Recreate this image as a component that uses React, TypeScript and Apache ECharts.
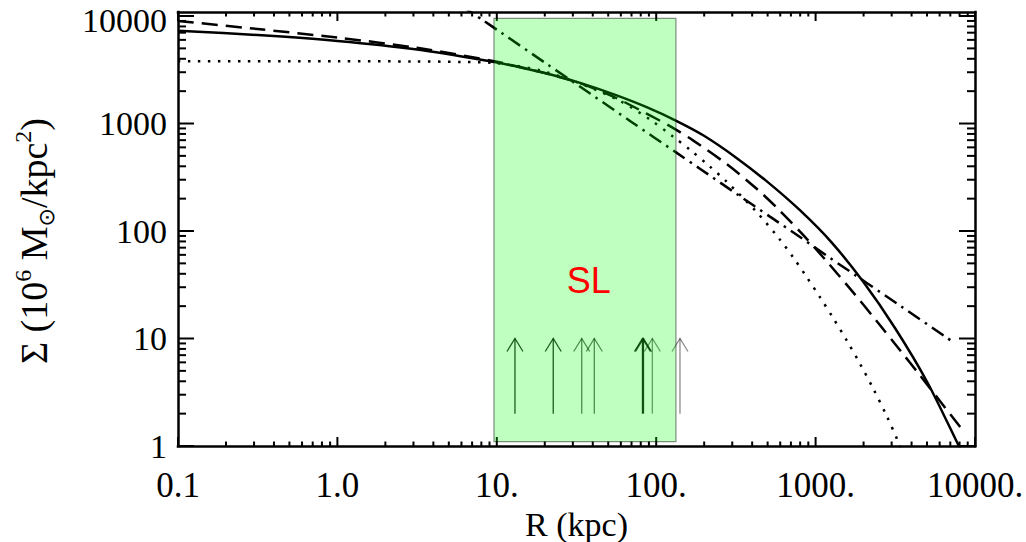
import React, { useEffect, useRef } from "react";
import * as echarts from "echarts";

// ---- axes ----
const xRange = [0.1, 10000];
const yRange = [1, 10900];
const xMajorTicks = [0.1, 1, 10, 100, 1000, 10000];
const xTickLabels = ["0.1", "1.0", "10.", "100.", "1000.", "10000."];
const yMajorTicks = [1, 10, 100, 1000, 10000];
const yTickLabels = ["1", "10", "100", "1000", "10000"];
const minorMultipliers = [2, 3, 4, 5, 6, 7, 8, 9];
const xTitle = "R (kpc)";

// ---- solid curve ----
const solidR = [0.1, 0.316, 1.0, 3.16, 10, 12.7, 20.6, 33.3, 53.8, 87.1, 134.6, 199.5, 316, 501, 794, 1259, 1995, 3162, 5012, 7943, 8300];
const solidS = [7300, 6650, 5860, 4875, 3700, 3436, 2917, 2388, 1875, 1419, 1054, 769, 484, 285, 157, 78.5, 33.5, 12.4, 3.94, 0.99, 0.86];

// ---- dashed curve ----
const dashedR = [0.1, 0.316, 1.0, 3.16, 10, 20.6, 33.3, 53.8, 87.1, 125, 171, 277, 427, 598, 838, 1175, 1726, 2415, 3388, 4519, 6026, 8280];
const dashedS = [9000, 7570, 6300, 5060, 3750, 2910, 2370, 1780, 1236, 925, 693, 419, 247, 154, 91.4, 52.2, 26.7, 14.55, 7.78, 4.53, 2.62, 1.43];

// ---- dotted curve ----
const dottedR = [0.1, 1, 3, 6, 9.5, 14, 18.7, 31.7, 59.3, 91.4, 128, 163, 217, 277, 427, 598, 725, 879, 1066, 1292, 1567, 1901, 2303, 2800, 3300, 3400];
const dottedS = [3790, 3790, 3780, 3740, 3660, 3400, 3120, 2430, 1618, 1090, 753, 570, 398, 287, 150, 83, 56.6, 37.3, 24.2, 15.4, 9.6, 5.8, 3.4, 1.89, 1.09, 0.95];

// ---- dash-dot curve ----
const dashDotR = [6.0, 8.22, 10.7, 20.6, 38.5, 68.5, 134.6, 188, 320, 517, 798, 1174, 2093, 3388, 6640, 7500];
const dashDotS = [12500, 9100, 6970, 3580, 1900, 1057, 533, 380, 221, 136, 88, 59, 32.9, 20.2, 10.2, 9.0];

// ---- SL region, arrows, label ----
const slBox = [9.6, 1.1, 133, 9500]; // R0, S0, R1, S1
const arrowR = [13.0, 22.6, 34.1, 40.9, 82.0, 83.2, 94.6, 141];
const arrowAlpha = [0.85, 0.85, 0.6, 0.6, 0.9, 0.9, 0.5, 0.45];
const arrowSigma = [2, 10];
const slText = "SL";
const slLabelPos = [37.8, 34.9];

function pairs(r: number[], s: number[]) {
  return r.map((v, i) => [v, s[i]]);
}

function minorList(majors: number[], max: number) {
  const out: number[] = [];
  majors.forEach((m) =>
    minorMultipliers.forEach((k) => {
      const v = m * k;
      if (v < max) out.push(v);
    })
  );
  return out;
}

function labelFor(values: number[], labels: string[], richTopIndex = -1) {
  return (v: number) => {
    const lv = Math.log10(v);
    for (let i = 0; i < values.length; i++) {
      if (Math.abs(Math.log10(values[i]) - lv) < 1e-6) {
        return i === richTopIndex ? `{top|${labels[i]}}` : labels[i];
      }
    }
    return "";
  };
}

const SERIF = "'Liberation Serif', 'Times New Roman', serif";

export default function App() {
  const ref = useRef<HTMLDivElement>(null);

  useEffect(() => {
    if (!ref.current) return;
    const chart = echarts.init(ref.current, undefined, { renderer: "svg" });

    const xMinor = minorList(xMajorTicks, xRange[1]);
    const yMinor = minorList(yMajorTicks, yRange[1]);
    const xTickData = [
      ...xMajorTicks.map((v) => [v, 1, 1]),
      ...xMinor.map((v) => [v, 1, 0]),
    ];
    const yTickData = [
      ...yMajorTicks.map((v) => [1, v, 1]),
      ...yMinor.map((v) => [1, v, 0]),
    ];

    const lineCommon = {
      type: "line",
      showSymbol: false,
      symbol: "none",
      smooth: 0.3,
      z: 2,
      xAxisIndex: 0,
      yAxisIndex: 0,
    };

    const axisLineStyle = { color: "#000", width: 2.5, cap: "square" };

    const option: any = {
      animation: false,
      grid: { left: 178, top: 12, width: 797, height: 434, containLabel: false, outerBoundsMode: "none" },
      xAxis: [
        {
          type: "log",
          logBase: 10,
          min: xRange[0],
          max: xRange[1],
          position: "bottom",
          splitLine: { show: false },
          axisTick: { show: false },
          axisLine: { show: true, lineStyle: axisLineStyle },
          axisLabel: {
            show: true,
            margin: 24,
            fontSize: 35,
            lineHeight: 30,
            fontFamily: SERIF,
            color: "#000",
            formatter: labelFor(xMajorTicks, xTickLabels),
          },
          name: xTitle,
          nameLocation: "middle",
          nameGap: 56,
          nameTextStyle: { fontSize: 34, lineHeight: 30, fontFamily: SERIF, color: "#000" },
        },
        {
          type: "log",
          logBase: 10,
          min: xRange[0],
          max: xRange[1],
          position: "top",
          splitLine: { show: false },
          axisTick: { show: false },
          axisLabel: { show: false },
          axisLine: { show: true, lineStyle: axisLineStyle },
        },
      ],
      yAxis: [
        {
          type: "log",
          logBase: 10,
          min: yRange[0],
          max: yRange[1],
          position: "left",
          splitLine: { show: false },
          axisTick: { show: false },
          axisLine: { show: true, lineStyle: axisLineStyle },
          axisLabel: {
            show: true,
            margin: 11,
            fontSize: 34,
            lineHeight: 28,
            fontFamily: SERIF,
            color: "#000",
            formatter: labelFor(yMajorTicks, yTickLabels, yMajorTicks.length - 1),
            rich: {
              top: { fontSize: 34, lineHeight: 28, fontFamily: SERIF, color: "#000", padding: [9, 0, 0, 0] },
            },
          },
        },
        {
          type: "log",
          logBase: 10,
          min: yRange[0],
          max: yRange[1],
          position: "right",
          splitLine: { show: false },
          axisTick: { show: false },
          axisLabel: { show: false },
          axisLine: { show: true, lineStyle: axisLineStyle },
        },
      ],
      graphic: [
        {
          type: "text",
          x: 34,
          y: 241,
          rotation: Math.PI / 2,
          style: {
            text: "{a|Σ (10}{s|6}{a| M}{b|⊙}{a|/kpc}{s|2}{a|)}",
            align: "center",
            verticalAlign: "middle",
            fill: "#000",
            rich: {
              a: { fontSize: 38, fontFamily: SERIF, lineHeight: 46, fill: "#000" },
              s: { fontSize: 24, fontFamily: SERIF, lineHeight: 24, verticalAlign: "top", fill: "#000" },
              b: { fontSize: 22, fontFamily: "'DejaVu Sans', sans-serif", lineHeight: 38, verticalAlign: "bottom", fill: "#000" },
            },
          },
        },
      ],
      series: [
        {
          ...lineCommon,
          name: "solid",
          data: pairs(solidR, solidS),
          lineStyle: { color: "#000", width: 2.5, type: "solid" },
        },
        {
          ...lineCommon,
          name: "dashed",
          data: pairs(dashedR, dashedS),
          lineStyle: { color: "#000", width: 2.5, type: [16, 8] },
        },
        {
          ...lineCommon,
          name: "dotted",
          data: pairs(dottedR, dottedS),
          lineStyle: { color: "#000", width: 2.5, type: [2.5, 7.5] },
        },
        {
          ...lineCommon,
          name: "dashdot",
          data: pairs(dashDotR, dashDotS),
          lineStyle: { color: "#000", width: 2.5, type: [14, 6, 2.5, 6] },
        },
        {
          type: "custom",
          name: "xticks",
          xAxisIndex: 0,
          yAxisIndex: 0,
          z: 3,
          silent: true,
          data: xTickData,
          encode: { x: 0, y: 1 },
          renderItem: (params: any, api: any) => {
            const cs = params.coordSys;
            const px = api.coord([api.value(0), api.value(1)])[0];
            const len = api.value(2) ? 9 : 4.5;
            const b = cs.y + cs.height;
            const t = cs.y;
            return {
              type: "group",
              children: [
                { type: "line", shape: { x1: px, y1: b, x2: px, y2: b - len }, style: { stroke: "#000", lineWidth: 2 } },
                { type: "line", shape: { x1: px, y1: t, x2: px, y2: t + len }, style: { stroke: "#000", lineWidth: 2 } },
              ],
            };
          },
        },
        {
          type: "custom",
          name: "yticks",
          xAxisIndex: 0,
          yAxisIndex: 0,
          z: 3,
          silent: true,
          data: yTickData,
          encode: { x: 0, y: 1 },
          renderItem: (params: any, api: any) => {
            const cs = params.coordSys;
            const py = api.coord([api.value(0), api.value(1)])[1];
            const len = api.value(2) ? 16 : 8;
            const l = cs.x;
            const r = cs.x + cs.width;
            return {
              type: "group",
              children: [
                { type: "line", shape: { x1: l, y1: py, x2: l + len, y2: py }, style: { stroke: "#000", lineWidth: 2 } },
                { type: "line", shape: { x1: r, y1: py, x2: r - len, y2: py }, style: { stroke: "#000", lineWidth: 2 } },
              ],
            };
          },
        },
        {
          type: "custom",
          name: "arrows",
          xAxisIndex: 0,
          yAxisIndex: 0,
          z: 3,
          silent: true,
          data: arrowR.map((r, i) => [r, arrowSigma[0], arrowSigma[1], arrowAlpha[i]]),
          encode: { x: 0, y: [1, 2] },
          renderItem: (params: any, api: any) => {
            const base = api.coord([api.value(0), api.value(1)]);
            const tip = api.coord([api.value(0), api.value(2)]);
            const stroke = `rgba(0,0,0,${api.value(3)})`;
            return {
              type: "group",
              children: [
                { type: "line", shape: { x1: base[0], y1: base[1], x2: tip[0], y2: tip[1] }, style: { stroke, lineWidth: 1.3 } },
                {
                  type: "polyline",
                  shape: { points: [[tip[0] - 8, tip[1] + 13], [tip[0], tip[1]], [tip[0] + 8, tip[1] + 13]] },
                  style: { stroke, lineWidth: 1.3, fill: "none" },
                },
              ],
            };
          },
        },
        {
          type: "custom",
          name: "slbox",
          xAxisIndex: 0,
          yAxisIndex: 0,
          z: 5,
          silent: true,
          data: [slBox],
          encode: { x: [0, 2], y: [1, 3] },
          renderItem: (params: any, api: any) => {
            const p0 = api.coord([api.value(0), api.value(1)]);
            const p1 = api.coord([api.value(2), api.value(3)]);
            return {
              type: "rect",
              shape: { x: p0[0], y: p1[1], width: p1[0] - p0[0], height: p0[1] - p1[1] },
              style: { fill: "rgba(0,255,0,0.25)", stroke: "rgba(0,0,0,0.45)", lineWidth: 1.2 },
            };
          },
        },
        {
          type: "custom",
          name: "sllabel",
          xAxisIndex: 0,
          yAxisIndex: 0,
          z: 6,
          silent: true,
          data: [slLabelPos],
          encode: { x: 0, y: 1 },
          renderItem: (params: any, api: any) => {
            const p = api.coord([api.value(0), api.value(1)]);
            return {
              type: "text",
              x: p[0],
              y: p[1],
              style: {
                text: slText,
                fill: "#ff0000",
                fontSize: 36,
                fontFamily: "'Liberation Sans', Arial, sans-serif",
                align: "center",
                verticalAlign: "middle",
              },
            };
          },
        },
      ],
    };

    chart.setOption(option);
    return () => chart.dispose();
  }, []);

  return (
    <div
      ref={ref}
      style={{ position: "absolute", left: 0, top: 0, width: 1026, height: 542, background: "#fff" }}
    />
  );
}
